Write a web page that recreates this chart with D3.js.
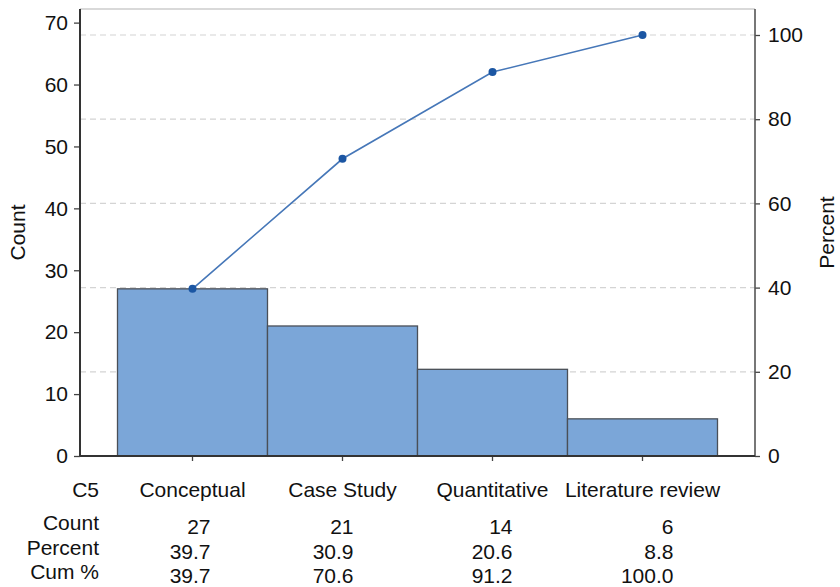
<!DOCTYPE html>
<html>
<head>
<meta charset="utf-8">
<script src="https://cdn.jsdelivr.net/npm/d3@7"></script>
<style>
  body { margin: 0; background: #fff; }
  svg text { font-family: "Liberation Sans", Arial, Helvetica, sans-serif; fill: #111; }
</style>
</head>
<body>
<svg id="chart" width="840" height="587"></svg>
<script>
// chart data
const categories = ['Conceptual', 'Case Study', 'Quantitative', 'Literature review'];
const counts = [27, 21, 14, 6];
const percents = ['39.7', '30.9', '20.6', '8.8'];
const cumPercents = ['39.7', '70.6', '91.2', '100.0'];
const countTicks = [0, 10, 20, 30, 40, 50, 60, 70];
const percentTicks = [0, 20, 40, 60, 80, 100];
const rowLabels = ['Count', 'Percent', 'Cum %'];

const svg = d3.select('#chart');
const plotLeft = 80, plotRight = 755, plotTop = 9, plotBottom = 456;
const total = d3.sum(counts);
const countMax = 72.2;
const fontSize = '21px';

let x = d3.scaleBand()
    .domain(categories)
    .range([plotLeft, plotRight])
    .paddingInner(0)
    .paddingOuter(0.25);

let yCount = d3.scaleLinear().domain([0, countMax]).range([plotBottom, plotTop]);
let yPct = d3.scaleLinear().domain([0, countMax / total * 100]).range([plotBottom, plotTop]);

// gridlines at percent ticks (behind bars)
svg.append('g')
    .selectAll('line')
    .data(percentTicks.filter(d => d > 0))
    .join('line')
    .attr('x1', plotLeft)
    .attr('x2', plotRight)
    .attr('y1', d => yPct(d))
    .attr('y2', d => yPct(d))
    .style('stroke', '#d4d4d4')
    .style('stroke-width', 1.2)
    .style('stroke-dasharray', '6,4');

// top frame line
svg.append('line')
    .attr('x1', plotLeft).attr('x2', plotRight)
    .attr('y1', plotTop).attr('y2', plotTop)
    .style('stroke', '#cccccc')
    .style('stroke-width', 1.5);

// bars
svg.append('g')
    .selectAll('rect')
    .data(categories)
    .join('rect')
    .attr('x', d => x(d))
    .attr('y', (d, i) => yCount(counts[i]))
    .attr('width', x.bandwidth())
    .attr('height', (d, i) => plotBottom - yCount(counts[i]))
    .style('fill', '#7ba6d8')
    .style('stroke', '#4a4f57')
    .style('stroke-width', 1.3);

// cumulative line
let cumPts = categories.map((d, i) => [x(d) + x.bandwidth() / 2, yPct(+cumPercents[i])]);
svg.append('path')
    .datum(cumPts)
    .attr('d', d3.line())
    .style('fill', 'none')
    .style('stroke', '#4677b8')
    .style('stroke-width', 1.6);

svg.append('g')
    .selectAll('circle')
    .data(cumPts)
    .join('circle')
    .attr('cx', d => d[0])
    .attr('cy', d => d[1])
    .attr('r', 4)
    .style('fill', '#1b56a3');

// axes
let leftAxis = svg.append('g')
    .attr('transform', `translate(${plotLeft},0)`)
    .call(d3.axisLeft(yCount).tickValues(countTicks).tickSize(6).tickPadding(6));

let rightAxis = svg.append('g')
    .attr('transform', `translate(${plotRight},0)`)
    .call(d3.axisRight(yPct).tickValues(percentTicks).tickSize(5).tickPadding(8));

let bottomAxis = svg.append('g')
    .attr('transform', `translate(0,${plotBottom})`)
    .call(d3.axisBottom(x).tickSize(5).tickFormat(''));

for (let ax of [leftAxis, rightAxis, bottomAxis]) {
    ax.select('.domain').attr('d', null);
    ax.selectAll('line').style('stroke', '#444').style('stroke-width', 1.3);
    ax.selectAll('text').style('font-size', fontSize).style('fill', '#111');
}

// axis lines drawn on top of bars
svg.append('line').attr('x1', plotLeft).attr('x2', plotLeft).attr('y1', plotTop).attr('y2', plotBottom)
    .style('stroke', '#333').style('stroke-width', 2);
svg.append('line').attr('x1', plotRight).attr('x2', plotRight).attr('y1', plotTop).attr('y2', plotBottom)
    .style('stroke', '#555').style('stroke-width', 1.6);
svg.append('line').attr('x1', plotLeft).attr('x2', plotRight).attr('y1', plotBottom).attr('y2', plotBottom)
    .style('stroke', '#333').style('stroke-width', 2);

// axis titles
svg.append('text')
    .attr('transform', `translate(25,${(plotTop + plotBottom) / 2}) rotate(-90)`)
    .attr('text-anchor', 'middle')
    .style('font-size', fontSize)
    .text('Count');

svg.append('text')
    .attr('transform', `translate(834,${(plotTop + plotBottom) / 2}) rotate(-90)`)
    .attr('text-anchor', 'middle')
    .style('font-size', fontSize)
    .text('Percent');

// table under the chart
const labelRight = 99;
const colShift = [18, 11, 20, 31];
const catBaseline = 497;
const rowBaselines = [530, 555, 579];

svg.append('text')
    .attr('x', labelRight).attr('y', catBaseline)
    .attr('text-anchor', 'end')
    .style('font-size', fontSize)
    .text('C5');

svg.append('g')
    .selectAll('text')
    .data(categories)
    .join('text')
    .attr('x', d => x(d) + x.bandwidth() / 2)
    .attr('y', catBaseline)
    .attr('text-anchor', 'middle')
    .style('font-size', fontSize)
    .text(d => d);

svg.append('g')
    .selectAll('text')
    .data(rowLabels)
    .join('text')
    .attr('x', labelRight)
    .attr('y', (d, i) => rowBaselines[i])
    .attr('text-anchor', 'end')
    .style('font-size', fontSize)
    .text(d => d);

let rows = [counts.map(String), percents, cumPercents];
rows.forEach((vals, r) => {
    svg.append('g')
        .selectAll('text')
        .data(vals)
        .join('text')
        .attr('x', (d, i) => x(categories[i]) + x.bandwidth() / 2 + colShift[i])
        .attr('y', rowBaselines[r] + 4)
        .attr('text-anchor', 'end')
        .style('font-size', fontSize)
        .text(d => d);
});
</script>
</body>
</html>
